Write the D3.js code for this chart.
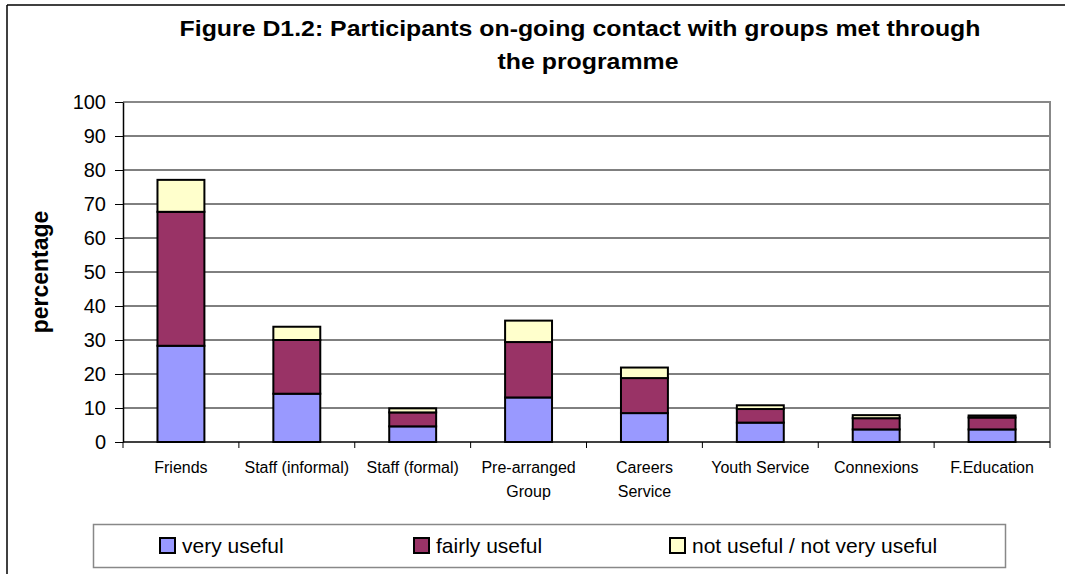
<!DOCTYPE html>
<html>
<head>
<meta charset="utf-8">
<script src="https://cdn.jsdelivr.net/npm/d3@7/dist/d3.min.js"></script>
<style>
  html, body { margin: 0; padding: 0; background: #fff; }
  svg { display: block; font-family: "Liberation Sans", Arial, sans-serif; }
</style>
</head>
<body>
<svg id="chart" width="1065" height="574"></svg>
<script>
// Contact groups along the x axis
const categories = ["Friends", "Staff (informal)", "Staff (formal)", "Pre-arranged Group",
  "Careers Service", "Youth Service", "Connexions", "F.Education"];
// Wrapped label lines for each category
const categoryLines = [["Friends"], ["Staff (informal)"], ["Staff (formal)"], ["Pre-arranged", "Group"],
  ["Careers", "Service"], ["Youth Service"], ["Connexions"], ["F.Education"]];

// Percentages per usefulness rating
const veryUseful   = [28.3, 14.2, 4.6, 13.1, 8.5, 5.7, 3.7, 3.7];
const fairlyUseful = [39.4, 15.8, 4.1, 16.3, 10.3, 4.0, 3.3, 3.5];
const notUseful    = [9.4, 3.9, 1.2, 6.3, 3.1, 1.1, 0.9, 0.6];

const seriesNames = ["very useful", "fairly useful", "not useful / not very useful"];
const seriesKeys = ["very", "fairly", "not"];
const seriesColors = ["#9999FF", "#993366", "#FFFFCC"];

const yTicks = [0, 10, 20, 30, 40, 50, 60, 70, 80, 90, 100];
const titleLines = ["Figure D1.2: Participants on-going contact with groups met through", "the programme"];
const yTitle = "percentage";

const rows = categories.map((c, i) => ({
  cat: c, very: veryUseful[i], fairly: fairlyUseful[i], not: notUseful[i]
}));

const svg = d3.select("#chart");

// Outer chart frame (left and top edges visible)
svg.append("line").attr("x1", 7).attr("y1", 5).attr("x2", 1065).attr("y2", 5)
  .attr("stroke", "#000").attr("stroke-width", 1.5);
svg.append("line").attr("x1", 7).attr("y1", 5).attr("x2", 7).attr("y2", 574)
  .attr("stroke", "#000").attr("stroke-width", 1.5);

const plot = { left: 123, right: 1050, top: 102, bottom: 442 };

const x = d3.scaleBand().domain(categories)
  .range([plot.left, plot.right]).paddingInner(0.595).paddingOuter(0.2975);
const y = d3.scaleLinear().domain([0, 100]).range([plot.bottom, plot.top]);
const boundary = d3.scaleLinear().domain([0, categories.length]).range([plot.left, plot.right]);

// Horizontal gridlines
svg.append("g").selectAll("line").data(yTicks.filter(t => t > 0 && t < 100)).join("line")
  .attr("x1", plot.left).attr("x2", plot.right)
  .attr("y1", d => y(d)).attr("y2", d => y(d))
  .attr("stroke", "#000").attr("stroke-width", 1);

// Plot area frame (top and right in grey)
svg.append("path")
  .attr("d", `M${plot.left},${y(100)}H${plot.right}V${plot.bottom}`)
  .attr("fill", "none").attr("stroke", "#888").attr("stroke-width", 2);

// Stacked bars
const stacked = d3.stack().keys(seriesKeys)(rows);
svg.append("g").selectAll("g").data(stacked).join("g")
  .attr("fill", (d, i) => seriesColors[i])
  .selectAll("rect").data(d => d).join("rect")
  .attr("x", d => x(d.data.cat))
  .attr("width", x.bandwidth())
  .attr("y", d => y(d[1]))
  .attr("height", d => y(d[0]) - y(d[1]))
  .attr("stroke", "#000").attr("stroke-width", 2);

// Y axis
const yAxis = svg.append("g").attr("transform", `translate(${plot.left},0)`)
  .call(d3.axisLeft(y).tickValues(yTicks).tickSize(8).tickSizeOuter(0).tickPadding(9));
yAxis.select(".domain").attr("stroke", "#000").attr("stroke-width", 1.5);
yAxis.selectAll(".tick line").attr("stroke", "#000");
yAxis.selectAll(".tick text").attr("font-size", 20).attr("fill", "#000")
  .attr("font-family", "Liberation Sans, Arial, sans-serif");

// X axis line and boundary ticks
svg.append("line").attr("x1", plot.left).attr("x2", plot.right)
  .attr("y1", plot.bottom).attr("y2", plot.bottom)
  .attr("stroke", "#000").attr("stroke-width", 1.5);
svg.append("g").selectAll("line").data(d3.range(categories.length + 1)).join("line")
  .attr("x1", d => boundary(d)).attr("x2", d => boundary(d))
  .attr("y1", plot.bottom).attr("y2", plot.bottom + 6)
  .attr("stroke", "#000").attr("stroke-width", 1);

// Category labels
const catLabels = svg.append("g").selectAll("text").data(categories).join("text")
  .attr("x", d => x(d) + x.bandwidth() / 2)
  .attr("y", 473)
  .attr("text-anchor", "middle")
  .attr("font-size", 16).attr("fill", "#000");
catLabels.each(function(d, i) {
  const t = d3.select(this);
  categoryLines[i].forEach((line, j) => {
    t.append("tspan").attr("x", x(d) + x.bandwidth() / 2)
      .attr("dy", j === 0 ? 0 : 24).text(line);
  });
});

// Title (slightly wide-set bold face)
svg.append("g").selectAll("text").data(titleLines).join("text")
  .attr("transform", (d, i) => `translate(${i === 0 ? 580 : 588},${36 + i * 33}) scale(1.13,1)`)
  .attr("text-anchor", "middle")
  .attr("font-size", 22).attr("font-weight", "bold").attr("fill", "#000")
  .text(d => d);

// Y axis title
svg.append("text")
  .attr("transform", `translate(48,272) rotate(-90)`)
  .attr("text-anchor", "middle")
  .attr("font-size", 23).attr("font-weight", "bold").attr("fill", "#000")
  .text(yTitle);

// Legend
const legend = svg.append("g");
legend.append("rect").attr("x", 93.5).attr("y", 524.5).attr("width", 912).attr("height", 43)
  .attr("fill", "#fff").attr("stroke", "#888").attr("stroke-width", 1.5);
const legendX = [160, 414, 670];
const items = legend.selectAll("g.item").data(seriesNames).join("g")
  .attr("transform", (d, i) => `translate(${legendX[i]},538)`);
items.append("rect").attr("width", 15).attr("height", 15)
  .attr("fill", (d, i) => seriesColors[i]).attr("stroke", "#000").attr("stroke-width", 2);
items.append("text").attr("x", 22).attr("y", 15)
  .attr("font-size", 21).attr("fill", "#000").text(d => d);
</script>
</body>
</html>
